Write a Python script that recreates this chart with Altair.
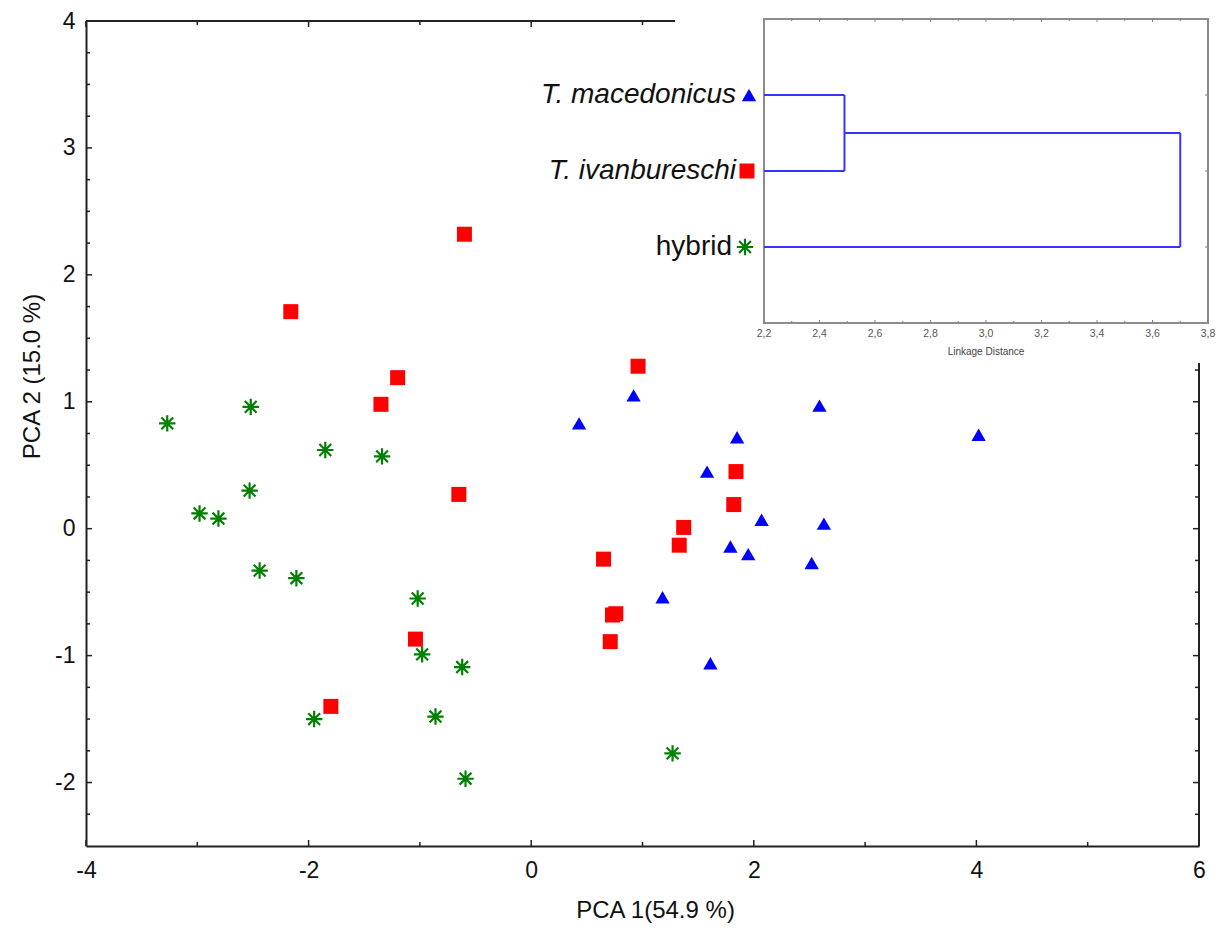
import altair as alt
import pandas as pd

# ---------------- data ----------------
mac_x = [0.92, 0.43, 2.59, 1.85, 4.02, 1.58, 2.07, 2.63, 1.79, 1.95, 2.52, 1.18, 1.61]
mac_y = [1.05, 0.83, 0.97, 0.72, 0.74, 0.45, 0.07, 0.04, -0.14, -0.20, -0.27, -0.54, -1.06]

iva_x = [-0.60, -2.16, -1.20, -1.35, -0.65, -1.04, -1.80, 0.96, 1.84, 1.82,
         1.37, 1.33, 0.65, 0.73, 0.76, 0.71]
iva_y = [2.32, 1.71, 1.19, 0.98, 0.27, -0.87, -1.40, 1.28, 0.45, 0.19,
         0.01, -0.13, -0.24, -0.68, -0.67, -0.89]

hyb_x = [-3.27, -2.52, -1.85, -1.34, -2.53, -2.98, -2.81, -2.44, -2.11, -1.02,
         -0.98, -0.62, -1.95, -0.86, -0.59, 1.27]
hyb_y = [0.83, 0.96, 0.62, 0.57, 0.30, 0.12, 0.08, -0.33, -0.39, -0.55,
         -0.99, -1.09, -1.50, -1.48, -1.97, -1.77]

species = ["T. macedonicus", "T. ivanbureschi", "hybrid"]
species_italic = [True, True, False]
leaf_pos = [1, 2, 3]
merge_heights = [2.49, 3.70]      # linkage distances of the two joins

x_domain = [-4, 6]
y_domain = [-2.5, 4]
x_major = [-4, -2, 0, 2, 4, 6]
x_minor = [-3, -1, 1, 3, 5]
y_major = [-2, -1, 0, 1, 2, 3, 4]
y_minor = [-2.25, -1.75, -1.5, -1.25, -0.75, -0.5, -0.25, 0.25, 0.5, 0.75,
           1.25, 1.5, 1.75, 2.25, 2.5, 2.75, 3.25, 3.5, 3.75]

inset_domain = [2.2, 3.8]
inset_leaf_domain = [0, 4]
inset_major = [2.2, 2.4, 2.6, 2.8, 3.0, 3.2, 3.4, 3.6, 3.8]
inset_minor = [2.3, 2.5, 2.7, 2.9, 3.1, 3.3, 3.5, 3.7]

x_title = "PCA 1(54.9 %)"
y_title = "PCA 2 (15.0 %)"
inset_title = "Linkage Distance"

# ---------------- layout / style ----------------
W, H = 1113, 825
FONT = "Liberation Sans"
AXIS_COLOR = "#222222"
BLUE, RED, GREEN = "#0000ff", "#ff0000", "#008000"
DENDRO = "#3535ff"
ASTERISK = "M-1,0L1,0M0,-1L0,1M-0.72,-0.72L0.72,0.72M-0.72,0.72L0.72,-0.72"
HYPHEN_LABEL = "datum.value < 0 ? '-' + abs(datum.value) : '' + datum.value"

one = pd.DataFrame({"a": [0]})

xs = alt.Scale(domain=x_domain, nice=False, zero=False)
ys = alt.Scale(domain=y_domain, nice=False, zero=False)

xaxis = alt.Axis(values=x_major, ticks=False, tickSize=0, grid=False,
                 domainColor=AXIS_COLOR, domainWidth=2,
                 labelFont=FONT, labelFontSize=23, labelColor="#111111",
                 labelPadding=13, labelFlush=False, labelExpr=HYPHEN_LABEL,
                 titleFont=FONT, titleFontSize=24, titleFontWeight="normal",
                 titleColor="#111111", titlePadding=16, titleX=569)
yaxis = alt.Axis(values=y_major, ticks=False, tickSize=0, grid=False,
                 domainColor=AXIS_COLOR, domainWidth=2,
                 labelFont=FONT, labelFontSize=23, labelColor="#111111",
                 labelPadding=11, labelFlush=False, labelExpr=HYPHEN_LABEL,
                 titleFont=FONT, titleFontSize=24, titleFontWeight="normal",
                 titleColor="#111111", titlePadding=10, titleY=355)


def X(field):
    return alt.X(field, type="quantitative", scale=xs, axis=xaxis, title=x_title)


def Y(field):
    return alt.Y(field, type="quantitative", scale=ys, axis=yaxis, title=y_title)


# points
df_mac = pd.DataFrame({"x": mac_x, "y": mac_y})
df_iva = pd.DataFrame({"x": iva_x, "y": iva_y})
df_hyb = pd.DataFrame({"x": hyb_x, "y": hyb_y})

pts_mac = alt.Chart(df_mac).mark_point(shape="triangle-up", filled=True, color=BLUE,
                                       size=205, opacity=1).encode(x=X("x"), y=Y("y"))
pts_iva = alt.Chart(df_iva).mark_point(shape="square", filled=True, color=RED,
                                       size=225, opacity=1).encode(x=X("x"), y=Y("y"))
pts_hyb = alt.Chart(df_hyb).mark_point(shape=ASTERISK, filled=False, color=GREEN,
                                       strokeWidth=2.2, size=270, opacity=1).encode(x=X("x"), y=Y("y"))

# frame (top and right) and inward ticks
frame_top = alt.Chart(one).mark_rule(color=AXIS_COLOR, strokeWidth=2).encode(
    x=alt.value(0), x2=alt.value(W), y=alt.value(0))
frame_right = alt.Chart(one).mark_rule(color=AXIS_COLOR, strokeWidth=2).encode(
    x=alt.value(W), y=alt.value(0), y2=alt.value(H))


def x_ticks(vals, length):
    d = pd.DataFrame({"v": vals})
    base = alt.Chart(d).mark_rule(color=AXIS_COLOR, strokeWidth=1.5)
    return [base.encode(x=X("v"), y=alt.value(H), y2=alt.value(H - length)),
            base.encode(x=X("v"), y=alt.value(0), y2=alt.value(length))]


def y_ticks(vals, length):
    d = pd.DataFrame({"v": vals})
    base = alt.Chart(d).mark_rule(color=AXIS_COLOR, strokeWidth=1.5)
    return [base.encode(y=Y("v"), x=alt.value(0), x2=alt.value(length)),
            base.encode(y=Y("v"), x=alt.value(W), x2=alt.value(W - length))]


tick_layers = (x_ticks(x_major, 6) + x_ticks(x_minor, 4) +
               y_ticks(y_major, 6) + y_ticks(y_minor, 4))

main = alt.layer(frame_top, frame_right, *tick_layers, pts_iva, pts_mac, pts_hyb)

# ---------------- inset dendrogram ----------------
xi = alt.Scale(domain=inset_domain, range=[678, 1122], nice=False, zero=False)
yi = alt.Scale(domain=inset_leaf_domain, range=[-2, 302], nice=False, zero=False)


def XI(field):
    return alt.X(field, type="quantitative", scale=xi, axis=None)


def YI(field):
    return alt.Y(field, type="quantitative", scale=yi, axis=None)


bg = alt.Chart(one).mark_rect(fill="white", strokeWidth=0).encode(
    x=alt.value(589), x2=alt.value(1140), y=alt.value(-21), y2=alt.value(342))

df_box = pd.DataFrame({"x0": [inset_domain[0]], "x1": [inset_domain[1]],
                       "y0": [inset_leaf_domain[0]], "y1": [inset_leaf_domain[1]]})
box = alt.Chart(df_box).mark_rect(fillOpacity=0, stroke="#8c8c8c", strokeWidth=2).encode(
    x=XI("x0"), x2="x1", y=YI("y0"), y2="y1")

base_d = inset_domain[0]
h1, h2 = merge_heights
mid1 = (leaf_pos[0] + leaf_pos[1]) / 2
segs = [
    (base_d, leaf_pos[0], h1, leaf_pos[0]),
    (base_d, leaf_pos[1], h1, leaf_pos[1]),
    (h1, leaf_pos[0], h1, leaf_pos[1]),
    (h1, mid1, h2, mid1),
    (base_d, leaf_pos[2], h2, leaf_pos[2]),
    (h2, mid1, h2, leaf_pos[2]),
]
df_seg = pd.DataFrame(segs, columns=["xa", "ya", "xb", "yb"])
dendro = alt.Chart(df_seg).mark_rule(color=DENDRO, strokeWidth=2).encode(
    x=XI("xa"), x2="xb", y=YI("ya"), y2="yb")


def xi_ticks(vals, length):
    d = pd.DataFrame({"v": vals})
    base = alt.Chart(d).mark_rule(color="#808080", strokeWidth=1)
    return [base.encode(x=XI("v"), y=alt.value(302), y2=alt.value(302 - length)),
            base.encode(x=XI("v"), y=alt.value(-2), y2=alt.value(-2 + length))]


df_leaf_ticks = pd.DataFrame({"v": leaf_pos})
yi_ticks = [alt.Chart(df_leaf_ticks).mark_rule(color="#808080", strokeWidth=1).encode(
    y=YI("v"), x=alt.value(1122), x2=alt.value(1119))]

inset_tick_layers = xi_ticks(inset_major, 3) + xi_ticks(inset_minor, 2) + yi_ticks

df_ilab = pd.DataFrame({"v": inset_major})
inset_labels = alt.Chart(df_ilab).transform_calculate(
    lab="replace(format(datum.v, '.1f'), '.', ',')"
).mark_text(font=FONT, fontSize=10.5, color="#555555", baseline="middle").encode(
    x=XI("v"), y=alt.value(313), text="lab:N")

inset_title_l = alt.Chart(pd.DataFrame({"t": [inset_title]})).mark_text(
    font=FONT, fontSize=10, color="#444444", baseline="middle").encode(
    x=alt.value(900), y=alt.value(331), text="t:N")

df_sp = pd.DataFrame({"name": species, "pos": leaf_pos, "italic": species_italic,
                      "x0": [inset_domain[0]] * len(species)})
sp_italic = alt.Chart(df_sp).transform_filter("datum.italic").mark_text(
    font=FONT, fontSize=28, fontStyle="italic", align="right", baseline="middle",
    dx=-28, color="#111111").encode(x=XI("x0"), y=YI("pos"), text="name:N")
sp_normal = alt.Chart(df_sp).transform_filter("!datum.italic").mark_text(
    font=FONT, fontSize=28, align="right", baseline="middle",
    dx=-32, color="#111111").encode(x=XI("x0"), y=YI("pos"), text="name:N")

df_m0 = df_sp.iloc[[0]]
df_m1 = df_sp.iloc[[1]]
df_m2 = df_sp.iloc[[2]]
mk_mac = alt.Chart(df_m0).mark_point(shape="triangle-up", filled=True, color=BLUE, size=205,
                                     opacity=1, xOffset=-15).encode(x=XI("x0"), y=YI("pos"))
mk_iva = alt.Chart(df_m1).mark_point(shape="square", filled=True, color=RED, size=225,
                                     opacity=1, xOffset=-17).encode(x=XI("x0"), y=YI("pos"))
mk_hyb = alt.Chart(df_m2).mark_point(shape=ASTERISK, filled=False, color=GREEN, strokeWidth=2.2,
                                     size=270, opacity=1, xOffset=-19).encode(x=XI("x0"), y=YI("pos"))

inset = alt.layer(bg, box, *inset_tick_layers, dendro, inset_labels, inset_title_l,
                  sp_italic, sp_normal, mk_mac, mk_iva, mk_hyb)

chart = alt.layer(main, inset).resolve_scale(
    x="independent", y="independent"
).properties(
    width=W, height=H,
    padding={"left": 78, "top": 13, "right": 16, "bottom": 85},
    autosize="none",
    background="white",
).configure_view(stroke=None).configure(font=FONT)

chart.save("out.html", embed_options={"renderer": "svg", "actions": False})
